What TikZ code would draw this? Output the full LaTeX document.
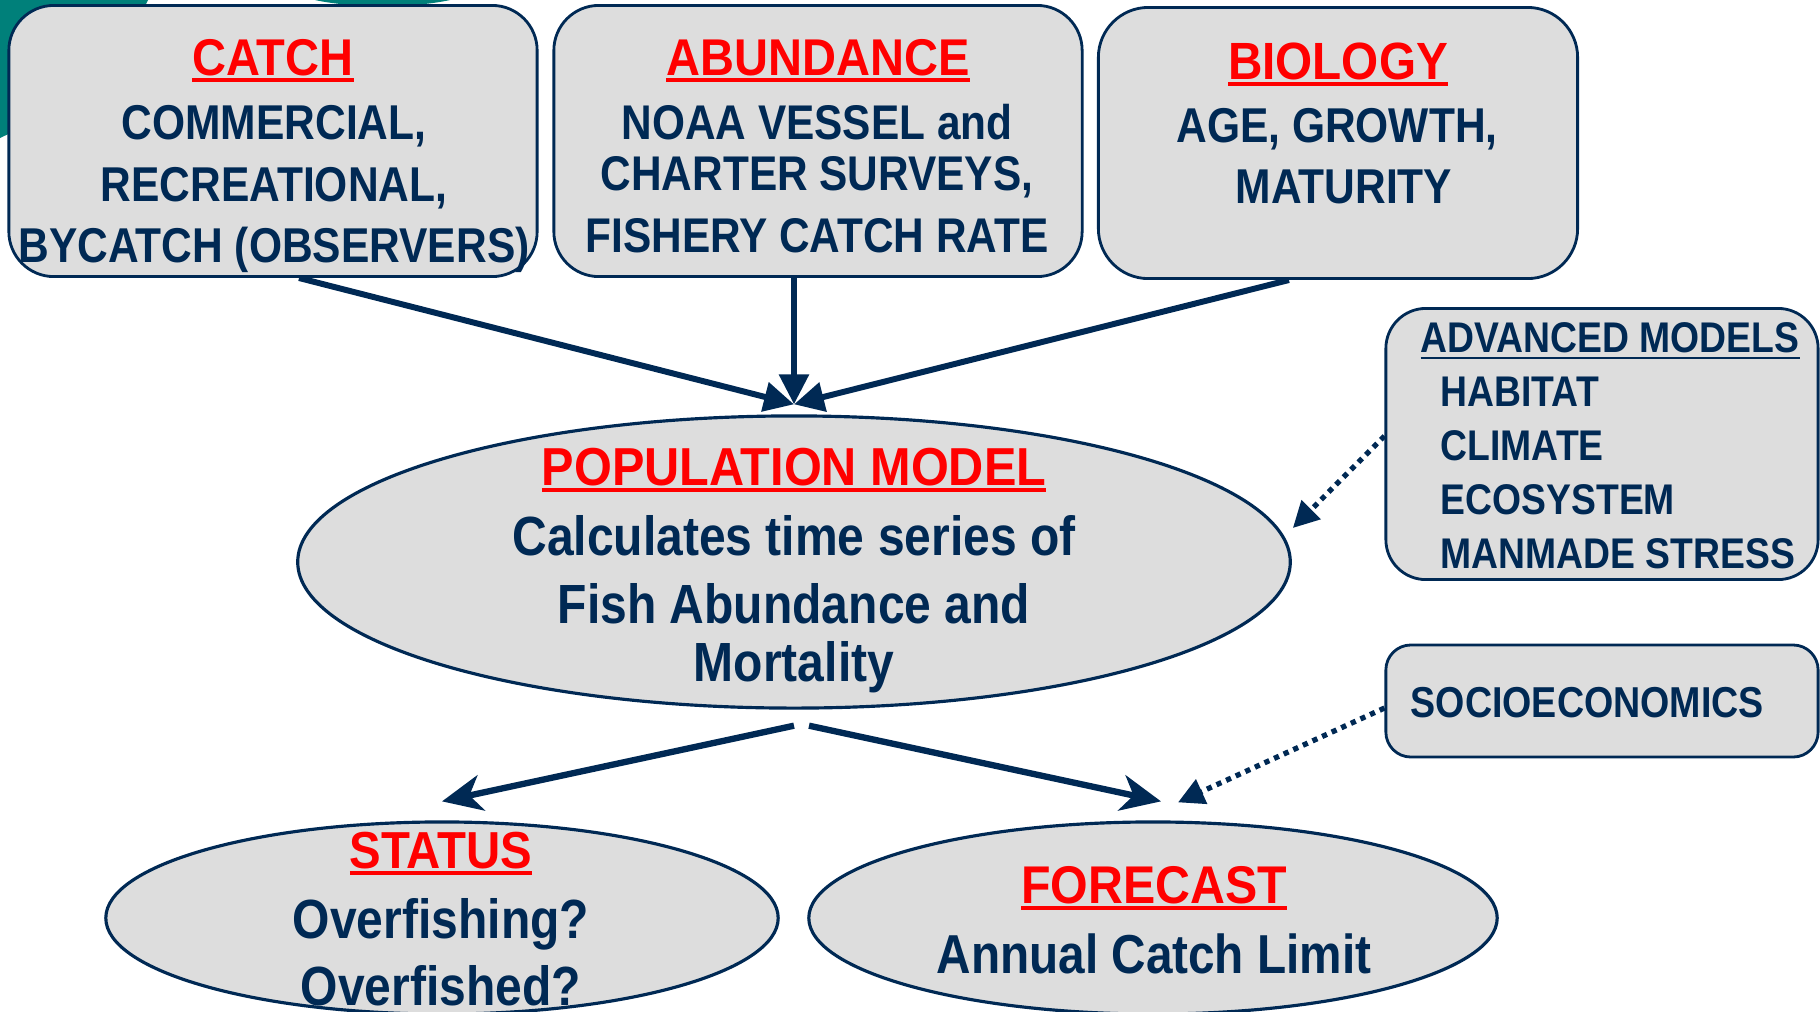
\documentclass[tikz,border=0pt]{standalone}
\usepackage{fontspec}
\setmainfont[FakeStretch=0.87]{Liberation Sans}
\newfontfamily\headfamily[FakeStretch=0.91]{Liberation Sans}
\usepackage{tikz}
\usetikzlibrary{shapes.geometric, arrows.meta, positioning, calc}
\definecolor{navy}{RGB}{0,41,84}
\definecolor{boxgray}{RGB}{221,221,221}
\definecolor{noaateal}{RGB}{0,128,122}
\definecolor{hdred}{RGB}{255,0,0}
% underline with a chosen rule thickness
\newsavebox{\ulbox}
\newcommand{\headuline}[2][1pt]{\sbox{\ulbox}{#2}\rlap{\rule[-1.9pt]{\wd\ulbox}{#1}}\usebox{\ulbox}}
\tikzset{
  box/.style={rectangle, draw=navy, fill=boxgray, rounded corners=#1,
    line width=0.8pt, inner sep=0pt},
  box/.default=0.45cm,
  oval/.style={ellipse, draw=navy, fill=boxgray, line width=0.9pt, inner sep=0pt},
  headtxt/.style={anchor=base, inner sep=0pt, text=hdred,
    font=\headfamily\bfseries\fontsize{#1}{#1}\selectfont},
  bodytxt/.style={anchor=base, inner sep=0pt, text=navy,
    font=\bfseries\fontsize{#1}{#1}\selectfont},
  listtxt/.style={bodytxt=#1, anchor=base west},
  arrow/.style={-{Triangle[length=0.3cm, width=0.29cm]}, line width=1.7pt, draw=navy},
  outarrow/.style={-{Stealth[length=0.4cm, width=0.36cm, inset=0.12cm]},
    line width=1.8pt, draw=navy},
  dotarrow/.style={-{Triangle[length=0.26cm, width=0.26cm]}, line width=1.5pt,
    draw=navy, dash pattern=on 1.5pt off 1.5pt}
}

\begin{document}
\begin{tikzpicture}[x=0.01cm, y=-0.01cm]
  \useasboundingbox (0,0) rectangle (1820,1011);
  % logo corner peeking out behind the catch box
  \fill[noaateal] (0,0) -- (148,0) .. controls (120,60) and (60,110) .. (0,138) -- cycle;
  \fill[noaateal] (315,0) .. controls (350,8) and (415,8) .. (450,0) -- cycle;

  % input boxes
  \node[box, minimum width=5.28cm, minimum height=2.71cm] (catch) at (273,141) {};
  \node[box, minimum width=5.28cm, minimum height=2.71cm] (abund) at (818,141) {};
  \node[box=0.5cm, minimum width=4.79cm, minimum height=2.71cm] (bio) at (1338,143) {};
  \node[box=0.4cm, minimum width=4.32cm, minimum height=2.71cm] (adv) at (1602,444) {};
  \node[box=0.25cm, minimum width=4.32cm, minimum height=1.12cm] (socio) at (1602,701) {};

  % model and outputs
  \node[oval, minimum width=9.92cm, minimum height=2.92cm] (pop) at (794,562) {};
  \node[oval, minimum width=6.72cm, minimum height=1.92cm] (status) at (442,918) {};
  \node[oval, minimum width=6.88cm, minimum height=1.92cm] (forecast) at (1153,918) {};

  % connectors
  \coordinate (pop-in) at ([yshift=0.1cm]pop.north);
  \draw[arrow] ([xshift=0.26cm]catch.south) -- (pop-in);
  \draw[arrow] ([xshift=-0.24cm]abund.south) -- (pop-in);
  \draw[arrow] ([xshift=-0.49cm]bio.south) -- (pop-in);
  \draw[outarrow] ([yshift=-0.16cm]pop.south) -- ([yshift=0.19cm]status.north);
  \draw[outarrow] ([xshift=0.15cm, yshift=-0.16cm]pop.south)
    -- ([xshift=0.08cm, yshift=0.19cm]forecast.north);
  \draw[dotarrow] ([yshift=0.08cm]adv.west) -- ([shift={(0.01cm,0.34cm)}]pop.east);
  \draw[dotarrow] ([yshift=-0.07cm]socio.west) -- ([shift={(0.25cm,0.18cm)}]forecast.north);

  % box texts
  \node[headtxt=14.7] (catch-head) at (273,75) {\headuline{CATCH}};
  \node[bodytxt=13.9] (catch-1) at (274,139) {COMMERCIAL,};
  \node[bodytxt=13.9] (catch-2) at (274,201) {RECREATIONAL,};
  \node[bodytxt=13.9] (catch-3) at (274,262) {BYCATCH (OBSERVERS)};

  \node[headtxt=14.7] (abund-head) at (818,75) {\headuline{ABUNDANCE}};
  \node[bodytxt=13.85] (abund-1) at (817,139) {NOAA VESSEL and};
  \node[bodytxt=13.85] (abund-2) at (817,190) {CHARTER SURVEYS,};
  \node[bodytxt=13.85] (abund-3) at (817,252) {FISHERY CATCH RATE};

  \node[headtxt=14.9] (bio-head) at (1338,79) {\headuline{BIOLOGY}};
  \node[bodytxt=13.9] (bio-1) at (1337,142) {AGE, GROWTH,};
  \node[bodytxt=13.9] (bio-2) at (1344,203) {MATURITY};

  \node[listtxt=12.2] (adv-head) at (1420,352) {\headuline[0.6pt]{ADVANCED MODELS}};
  \node[listtxt=12.2] (adv-1) at (1440,406) {HABITAT};
  \node[listtxt=12.2] (adv-2) at (1440,460) {CLIMATE};
  \node[listtxt=12.2] (adv-3) at (1440,514) {ECOSYSTEM};
  \node[listtxt=12.2] (adv-4) at (1440,568) {MANMADE STRESS};

  \node[listtxt=12.3] (socio-txt) at (1410,717) {SOCIOECONOMICS};

  % oval texts
  \node[headtxt=15.2] (pop-head) at (794,485) {\headuline{POPULATION MODEL}};
  \node[bodytxt=15.7] (pop-1) at (794,555) {Calculates time series of};
  \node[bodytxt=15.7] (pop-2) at (794,623) {Fish Abundance and};
  \node[bodytxt=15.7] (pop-3) at (794,681) {Mortality};

  \node[headtxt=14.8] (status-head) at (441,868) {\headuline{STATUS}};
  \node[bodytxt=15.7] (status-1) at (441,938) {Overfishing?};
  \node[bodytxt=15.7] (status-2) at (441,1005) {Overfished?};

  \node[headtxt=15.1] (forecast-head) at (1154,903) {\headuline{FORECAST}};
  \node[bodytxt=15.6] (forecast-1) at (1154,973) {Annual Catch Limit};
\end{tikzpicture}
\end{document}
